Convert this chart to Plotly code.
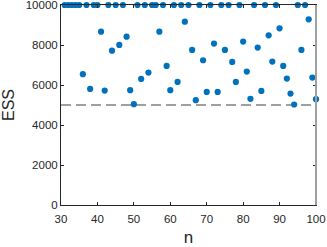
import plotly.graph_objects as go

n_values = list(range(31, 101))
T = 10000
ess_values = [
    T, T, T, T, T, 6540, T, 5806, T, T,          # 31-40
    8667, 5720, T, 7718, T, 8003, T, 8418, 5740, 5042,  # 41-50
    T, 6305, T, 6620, T, T, 8667, T, 6955, 5740,  # 51-60
    T, 6155, T, 9168, T, 7753, 5240, T, 7238, 5656,  # 61-70
    T, 8069, 5656, T, 7753, T, 7154, 6156, T, 8169,  # 71-80
    6672, 5307, T, 7870, 5706, T, 8486, 7171, T, 8835,  # 81-90
    6955, 6322, 5573, 5024, T, 7753, T, 9284, 6372, 5290,  # 91-100
]
threshold = 5000
x_ticks = [30, 40, 50, 60, 70, 80, 90, 100]
y_ticks = [0, 2000, 4000, 6000, 8000, 10000]

fig = go.Figure()
fig.add_trace(go.Scatter(
    x=[30, 100], y=[threshold, threshold], mode="lines",
    line=dict(color="#808080", width=1.3, dash="10px,5px"),
    hoverinfo="skip", showlegend=False,
))
fig.add_trace(go.Scatter(
    x=n_values, y=ess_values, mode="markers",
    marker=dict(color="#0072BD", size=6.2, line=dict(width=0)),
    cliponaxis=False, showlegend=False,
))

axis_font = dict(family="Liberation Sans, Arial, sans-serif", size=11.5, color="#262626")
fig.update_layout(
    width=327, height=247,
    margin=dict(l=61, r=11, t=5, b=42, autoexpand=False),
    paper_bgcolor="white", plot_bgcolor="white",
    font=dict(family="Liberation Sans, Arial, sans-serif", color="#262626"),
    xaxis=dict(
        range=[30, 100], tickvals=x_ticks, ticktext=[str(v) for v in x_ticks],
        showgrid=False, zeroline=False, showline=True, linecolor="#262626", linewidth=1,
        mirror="ticks", ticks="inside", ticklen=3, tickcolor="#262626",
        tickfont=axis_font, ticklabeloverflow="allow", automargin=False,
        ticklabelstandoff=3,
        title=dict(text="n", font=dict(size=17, color="#262626"), standoff=12),
    ),
    yaxis=dict(
        range=[0, 10000], tickvals=y_ticks, ticktext=[str(v) for v in y_ticks],
        showgrid=False, zeroline=False, showline=True, linecolor="#262626", linewidth=1,
        mirror="ticks", ticks="inside", ticklen=3, tickcolor="#262626",
        tickfont=axis_font, ticklabeloverflow="allow", automargin=False,
        title=dict(text="ESS", font=dict(size=16, color="#262626"), standoff=8),
    ),
)
fig.add_shape(type="line", xref="paper", yref="paper", x0=1, x1=1, y0=0, y1=1,
              line=dict(color="#a0a0a0", width=2))
fig.write_html("out.html", config={"displayModeBar": False},
               post_script="document.body.style.margin='0';")
